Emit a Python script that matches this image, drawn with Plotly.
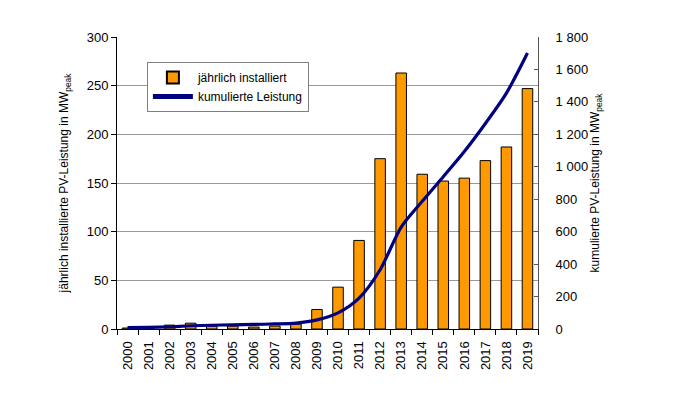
import plotly.graph_objects as go

years = [str(y) for y in range(2000, 2020)]
annual = [1, 0.5, 4, 6, 3, 3, 2, 3, 5, 20, 43, 91, 175, 263, 159, 152, 155, 173, 187, 247]
cumulative = [8, 10, 14, 20, 23, 26, 28, 31, 36, 56, 99, 190, 365, 628, 787, 939, 1094, 1267, 1454, 1701]

left_ticks = [0, 50, 100, 150, 200, 250, 300]
right_ticks = [0, 200, 400, 600, 800, 1000, 1200, 1400, 1600, 1800]
right_labels = ["0", "200", "400", "600", "800", "1 000", "1 200", "1 400", "1 600", "1 800"]

font = dict(family="Liberation Sans, Arial, sans-serif", size=13, color="black")
tfont = dict(family="Liberation Sans, Arial, sans-serif", size=12, color="black")

fig = go.Figure()
fig.add_trace(go.Bar(
    x=years, y=annual, name="jährlich installiert",
    marker=dict(color="#FF9900", line=dict(color="black", width=1)),
    width=0.5, yaxis="y"))
fig.add_trace(go.Scatter(
    x=years, y=cumulative, name="kumulierte Leistung", mode="lines",
    line=dict(color="#000080", width=3.2, shape="spline", smoothing=0.8),
    yaxis="y2"))

fig.update_layout(
    width=674, height=385,
    margin=dict(l=109, r=144, t=29, b=64, autoexpand=False),
    paper_bgcolor="white", plot_bgcolor="white",
    font=font,
    showlegend=True,
    legend=dict(x=0.071, y=0.914, xanchor="left", yanchor="top",
                bgcolor="white", bordercolor="#808080", borderwidth=1,
                font=dict(family="Liberation Sans, Arial, sans-serif", size=12),
                itemsizing="constant", tracegroupgap=4, itemwidth=40),
    bargap=0.5,
    xaxis=dict(type="category", tickangle=-90, showline=True, linecolor="black",
               ticks="outside", tickson="boundaries", ticklen=5, tickcolor="black",
               showgrid=False, tickfont=font, automargin=False, ticklabelstandoff=6),
    yaxis=dict(range=[0, 300], tickvals=left_ticks, showline=True, linecolor="black",
               ticks="outside", ticklen=5, tickcolor="black",
               showgrid=True, gridcolor="#999999", gridwidth=1, zeroline=False,
               title=dict(text="jährlich installierte PV-Leistung in MW<sub>peak</sub>",
                          font=tfont, standoff=15),
               tickfont=font, automargin=False),
    yaxis2=dict(range=[0, 1800], tickvals=right_ticks, ticktext=right_labels,
                overlaying="y", side="right", showline=True, linecolor="#555555",
                ticks="inside", ticklen=4, tickcolor="#555555",
                showgrid=False, zeroline=False, ticklabelstandoff=14,
                title=dict(text="kumulierte PV-Leistung in MW<sub>peak</sub>",
                           font=tfont, standoff=2),
                tickfont=font, automargin=False),
)

fig.write_html("out.html")
